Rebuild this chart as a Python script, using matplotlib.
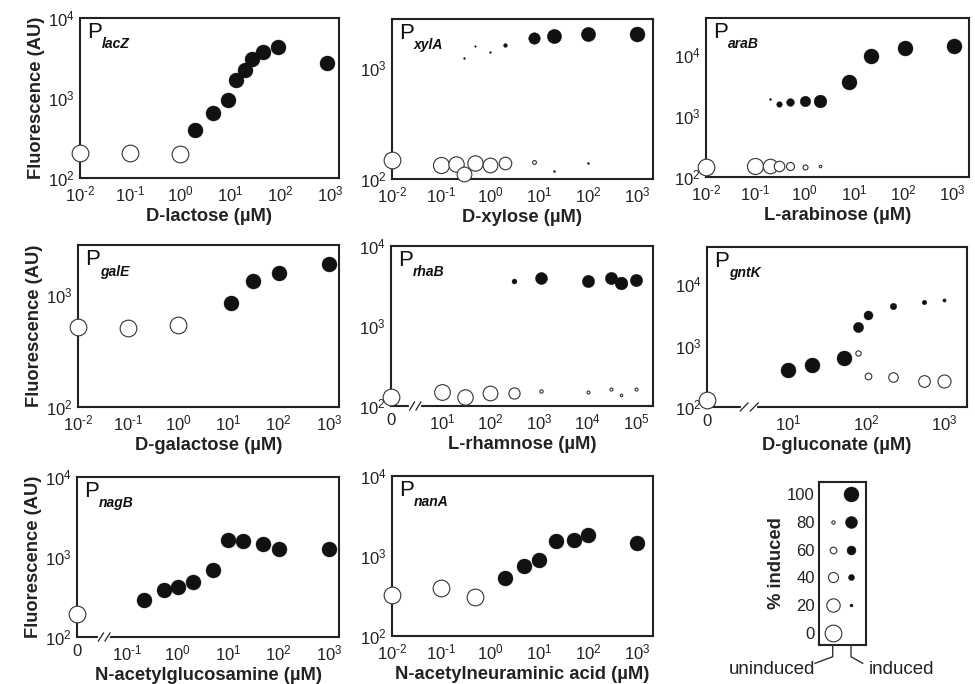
import numpy as np
import matplotlib
matplotlib.use('Agg')
import matplotlib.pyplot as plt

plt.rcParams['font.family'] = ['Liberation Sans', 'DejaVu Sans']
plt.rcParams['mathtext.fontset'] = 'custom'
plt.rcParams['mathtext.rm'] = 'Liberation Sans'
plt.rcParams['mathtext.it'] = 'Liberation Sans:italic'
plt.rcParams['mathtext.bf'] = 'Liberation Sans:bold'

nan = np.nan

# concentration (uM), fluorescence of uninduced / induced cells (AU), % induced
lac_conc = [0.01, 0.1, 1, 2, 4.6, 9.3, 13, 20, 27.5, 46, 91, 870]
lac_unind = [205, 205, 200, nan, nan, nan, nan, nan, nan, nan, nan, nan]
lac_ind = [nan, nan, nan, 400, 650, 950, 1700, 2250, 3100, 3800, 4350, 2750]
lac_pct = [0, 0, 0, 100, 100, 100, 100, 100, 100, 100, 100, 100]

xyl_conc = [0.01, 0.1, 0.2, 0.3, 0.5, 1, 2, 8, 20, 100, 1000]
xyl_unind = [148, 134, 136, 111, 140, 135, 138, 143, 119, 140, nan]
xyl_ind = [nan, nan, nan, 1230, 1580, 1400, 1620, 1850, 1950, 2000, 2000]
xyl_pct = [0, 4, 8, 12, 8, 12, 25, 77, 95, 95, 100]

ara_conc = [0.01, 0.1, 0.2, 0.3, 0.5, 1, 2, 8, 22, 110, 1050]
ara_unind = [148, 153, 153, 153, 153, 148, 150, nan, nan, nan, nan]
ara_ind = [nan, nan, 1900, 1590, 1710, 1780, 1780, 3560, 9600, 12900, 14000]
ara_pct = [0, 4, 13, 37, 52, 70, 85, 100, 100, 100, 100]

gal_conc = [0.01, 0.1, 1, 11, 30, 100, 1000]
gal_unind = [520, 505, 540, nan, nan, nan, nan]
gal_ind = [nan, nan, nan, 860, 1350, 1590, 1920]
gal_pct = [0, 0, 0, 100, 100, 100, 100]

rha_conc = [0, 10, 30, 100, 300, 1100, 10000, 30000, 50000, 100000]
rha_unind = [131, 148, 131, 147, 147, 155, 151, 163, 137, 163]
rha_ind = [nan, nan, nan, nan, 3700, 4000, 3700, 3950, 3480, 3760]
rha_pct = [0, 6, 8, 12, 33, 80, 82, 82, 85, 82]

gnt_conc = [0, 10, 20, 52, 78, 105, 220, 550, 1000]
gnt_unind = [128, nan, nan, nan, 760, 318, 307, 264, 264]
gnt_ind = [nan, 404, 474, 633, 2030, 3170, 4340, 5040, 5500]
gnt_pct = [0, 100, 100, 100, 68, 60, 43, 30, 22]

nag_conc = [0, 0.21, 0.54, 1, 2, 5, 10, 20, 50, 100, 1000]
nag_unind = [196, nan, nan, nan, nan, nan, nan, nan, nan, nan, nan]
nag_ind = [nan, 293, 384, 420, 487, 680, 1620, 1575, 1440, 1270, 1270]
nag_pct = [0, 100, 100, 100, 100, 100, 100, 100, 100, 100, 100]

nan_conc = [0.01, 0.1, 0.5, 2, 5, 10, 22, 51, 100, 1000]
nan_unind = [327, 395, 310, nan, nan, nan, nan, nan, nan, nan]
nan_ind = [nan, nan, nan, 527, 757, 890, 1540, 1580, 1830, 1470]
nan_pct = [0, 0, 0, 100, 100, 100, 100, 100, 100, 100]

legend_pct = [0, 20, 40, 60, 80, 100]

W, H = 975, 684
fig = plt.figure(figsize=(W / 100, H / 100), dpi=100)

D_OPEN = 16.7  # px diameter of a fully uninduced circle
D_FILL = 15.0  # px diameter of a fully induced circle
INK = '#222222'


def px2pt(d):
    return d * 0.72


def add_axes(x0, y0, x1, y1):
    return fig.add_axes([x0 / W, 1 - y1 / H, (x1 - x0) / W, (y1 - y0) / H])


def pow_label(k):
    exp = str(k).replace('-', '\u2010')
    return r'$\mathregular{10^{%s}}$' % exp


def draw_points(ax, xpos, unind, ind, pct):
    for x, yu, yi, p in zip(xpos, unind, ind, pct):
        f = p / 100
        if not np.isnan(yu) and f < 1:
            d = max(D_OPEN * (1 - f), 1.6)
            ax.plot(x, yu, 'o', ms=px2pt(d), mfc='white', mec='#333333', mew=0.8,
                    clip_on=False, zorder=5)
        if not np.isnan(yi) and f > 0:
            d = max(D_FILL * f, 1.6)
            ax.plot(x, yi, 'o', ms=px2pt(d), mfc='#111111', mec='#111111', mew=0.3,
                    clip_on=False, zorder=5)


def draw_break(ax, xb):
    # white gap in the bottom spine plus two slanted marks
    tr = ax.get_xaxis_transform()
    ax.plot([xb - 0.08, xb + 0.08], [0, 0], color='white', lw=3, transform=tr,
            clip_on=False, zorder=6)
    for dx in (-0.065, 0.065):
        ax.plot([xb + dx - 0.05, xb + dx + 0.05], [-0.025, 0.025], color=INK, lw=0.9,
                transform=tr, clip_on=False, zorder=7)


def setup(ax, name, xlabel, xlim, ylim_top, ticks, zero=None, brk=None, ylab=False):
    ax.set_yscale('log')
    ax.set_xlim(*xlim)
    ax.set_ylim(100, ylim_top)
    for s in ax.spines.values():
        s.set_linewidth(1.5)
        s.set_color(INK)
    yk = [k for k in (2, 3, 4) if 10 ** k <= ylim_top * 1.001]
    ax.set_yticks([10 ** k for k in yk])
    ax.set_yticklabels([pow_label(k) for k in yk])
    ax.yaxis.set_minor_locator(matplotlib.ticker.NullLocator())
    pos = list(ticks)
    labels = [pow_label(k) for k in ticks]
    if zero is not None:
        pos = [zero] + pos
        labels = ['0'] + labels
    ax.set_xticks(pos)
    ax.set_xticklabels(labels)
    ax.tick_params(length=0, labelsize=12, pad=4, colors=INK)
    ax.tick_params(axis='x', pad=5)
    ax.set_xlabel(xlabel, fontsize=13.2, fontweight='bold', labelpad=2, color=INK)
    if ylab:
        ax.set_ylabel('Fluorescence (AU)', fontsize=13.2, fontweight='bold', labelpad=2,
                      color=INK)
    ax.text(0.027, 0.91, 'P', transform=ax.transAxes, fontsize=16, va='center', ha='left',
            color='#111111')
    ax.text(0.083, 0.835, name, transform=ax.transAxes, fontsize=10, va='center', ha='left',
            fontstyle='italic', fontweight='bold', color='#111111')
    if brk is not None:
        draw_break(ax, brk)


def logpos(conc, zero):
    return [zero if c == 0 else np.log10(c) for c in conc]


panels = [
    # bounds, name, xlabel, xlim, ylim top, ticks, zero, break, data
    ((80, 18, 339, 178), 'lacZ', 'D-lactose (\u00b5M)', (-2, 3.18), 1e4, range(-2, 4), None, None,
     (lac_conc, lac_unind, lac_ind, lac_pct), True),
    ((392, 19, 653, 179), 'xylA', 'D-xylose (\u00b5M)', (-2, 3.33), 10 ** 3.44, range(-2, 4), None, None,
     (xyl_conc, xyl_unind, xyl_ind, xyl_pct), False),
    ((706, 18, 969, 177), 'araB', 'L-arabinose (\u00b5M)', (-2, 3.33), 10 ** 4.6, range(-2, 4), None, None,
     (ara_conc, ara_unind, ara_ind, ara_pct), False),
    ((78, 245, 339, 407), 'galE', 'D-galactose (\u00b5M)', (-2, 3.2), 10 ** 3.45, range(-2, 4), None, None,
     (gal_conc, gal_unind, gal_ind, gal_pct), True),
    ((391, 246, 653, 406), 'rhaB', 'L-rhamnose (\u00b5M)', (-0.05, 5.35), 1e4, range(1, 6), -0.05, 0.45,
     (rha_conc, rha_unind, rha_ind, rha_pct), False),
    ((707, 247, 967, 407), 'gntK', 'D-gluconate (\u00b5M)', (-0.04, 3.29), 10 ** 4.6, range(1, 4), -0.04, 0.5,
     (gnt_conc, gnt_unind, gnt_ind, gnt_pct), False),
    ((77, 477, 339, 637), 'nagB', 'N-acetylglucosamine (\u00b5M)', (-2.0, 3.2), 1e4, range(-1, 4), -2.0, -1.46,
     (nag_conc, nag_unind, nag_ind, nag_pct), True),
    ((392, 476, 653, 636), 'nanA', 'N-acetylneuraminic acid (\u00b5M)', (-2, 3.33), 1e4, range(-2, 4), None, None,
     (nan_conc, nan_unind, nan_ind, nan_pct), False),
]

for bounds, name, xlabel, xlim, ytop, ticks, zero, brk, data, ylab in panels:
    ax = add_axes(*bounds)
    setup(ax, name, xlabel, xlim, ytop, ticks, zero, brk, ylab)
    conc, unind, ind, pct = data
    draw_points(ax, logpos(conc, zero), unind, ind, pct)

# size legend
lax = add_axes(819, 482, 866, 645)
lax.set_xlim(0, 1)
lax.set_ylim(-9, 109)
for s in lax.spines.values():
    s.set_linewidth(1.5)
    s.set_color(INK)
lax.set_xticks([])
lax.set_yticks(legend_pct)
lax.tick_params(length=0, labelsize=12, pad=3, colors=INK)
lax.set_ylabel('% induced', fontsize=13.2, fontweight='bold', color=INK)
lax.yaxis.set_label_coords(-0.72, 0.5)
for p in legend_pct:
    f = p / 100
    if f < 1:
        lax.plot(0.29, p, 'o', ms=px2pt(max(D_OPEN * (1 - f), 1.6)), mfc='white', mec='#333333',
                 mew=0.8, zorder=5)
    if f > 0:
        lax.plot(0.68, p, 'o', ms=px2pt(max(D_FILL * f, 1.6)), mfc='#111111', mec='#111111',
                 mew=0.3, zorder=5)


# brackets pointing to the two columns
def fx(px):
    return px / W


def fy(py):
    return 1 - py / H


fig.add_artist(plt.Line2D([fx(832.7), fx(832.7), fx(815)], [fy(645), fy(656.7), fy(663.3)],
                          color='#333333', lw=1.0))
fig.add_artist(plt.Line2D([fx(851), fx(851), fx(862.7)], [fy(645), fy(656.7), fy(663.3)],
                          color='#333333', lw=1.0))
fig.text(fx(771.7), fy(670), 'uninduced', fontsize=13.5, ha='center', va='center', color=INK)
fig.text(fx(901.7), fy(670), 'induced', fontsize=13.5, ha='center', va='center', color=INK)

fig.savefig('out.png', dpi=100, facecolor='white')
